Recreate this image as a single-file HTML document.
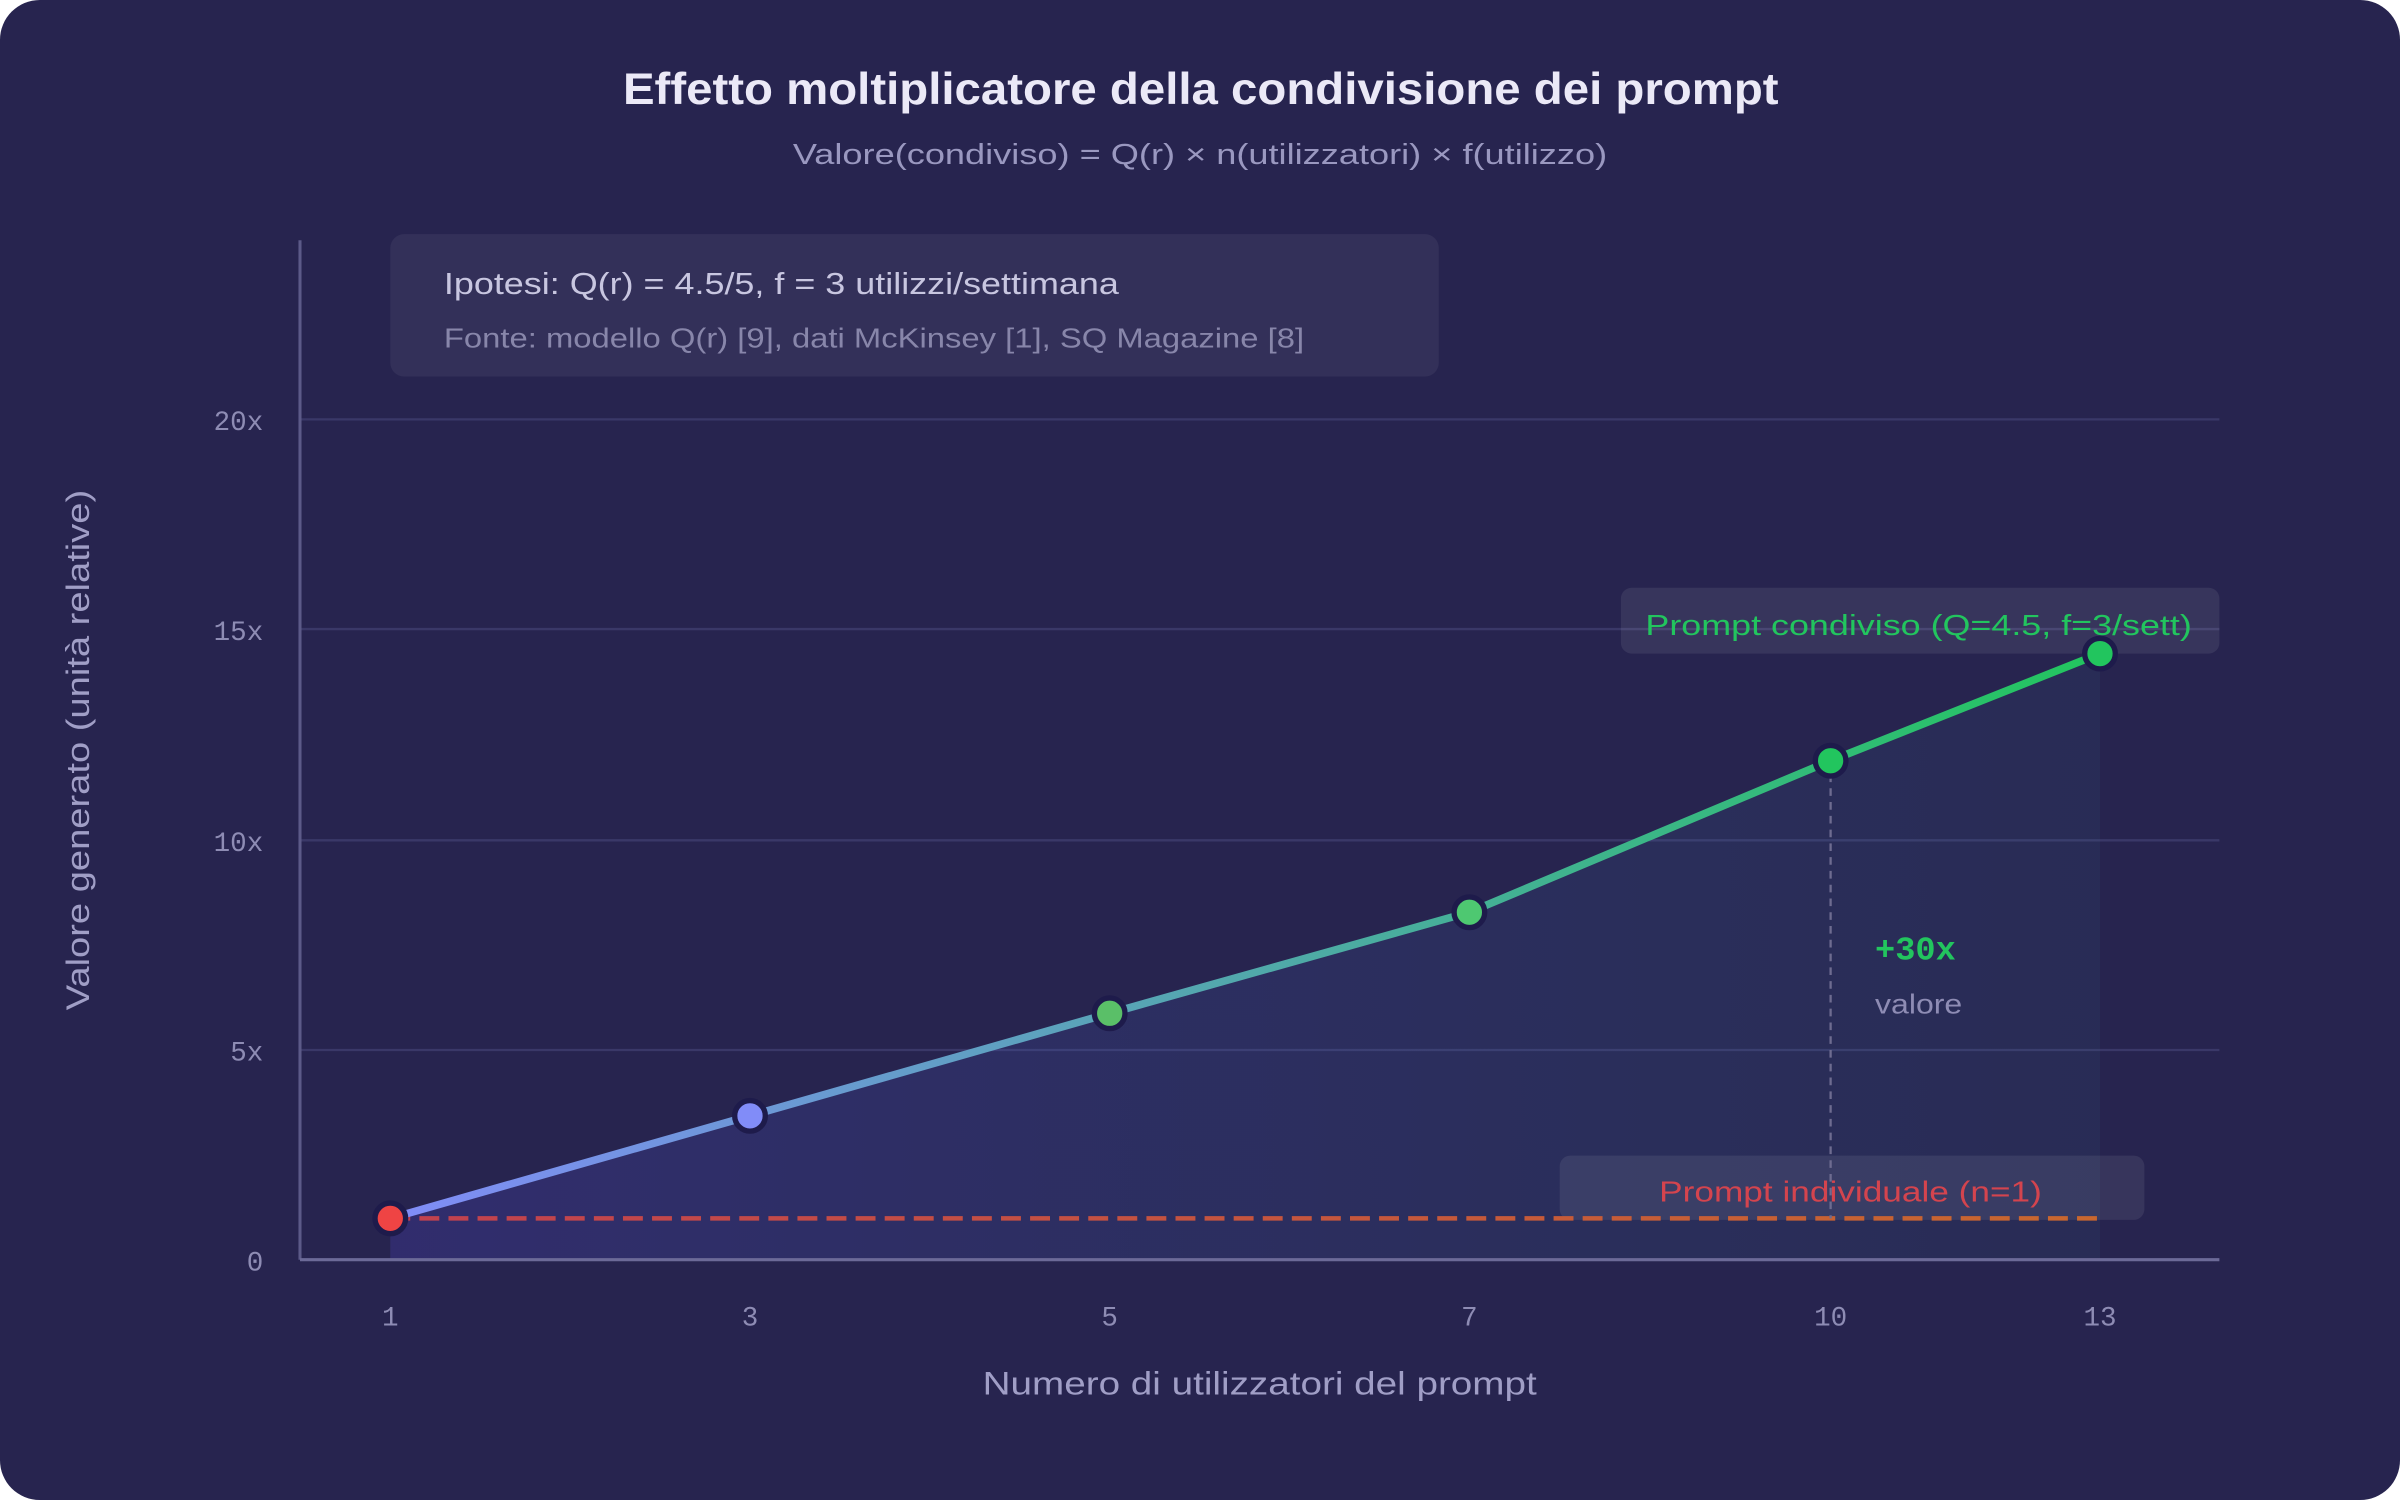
<!DOCTYPE html>
<html><head><meta charset="utf-8"><style>
html,body{margin:0;padding:0;background:#fff;}
svg{display:block;}
</style></head><body>
<svg width="2400" height="1500" viewBox="0 0 1568 980" xmlns="http://www.w3.org/2000/svg">
<defs>
<linearGradient id="lg" x1="255" y1="0" x2="1372" y2="0" gradientUnits="userSpaceOnUse">
<stop offset="0" stop-color="#818cf8"/><stop offset="1" stop-color="#22c55e"/></linearGradient>
<linearGradient id="dg" x1="255" y1="0" x2="1372" y2="0" gradientUnits="userSpaceOnUse">
<stop offset="0" stop-color="#c2414f"/><stop offset="1" stop-color="#c9672e"/></linearGradient>
<linearGradient id="ag" x1="255" y1="0" x2="1372" y2="0" gradientUnits="userSpaceOnUse">
<stop offset="0" stop-color="#4f46c8" stop-opacity="0.25"/><stop offset="1" stop-color="#3b82a0" stop-opacity="0.08"/></linearGradient>
</defs>
<rect x="0" y="0" width="1568" height="980" rx="26" fill="#27244f"/>
<g font-family="Liberation Sans, DejaVu Sans, sans-serif">
<text x="407" y="68" textLength="755" lengthAdjust="spacingAndGlyphs" font-size="29" font-weight="bold" fill="#ebe9f7">Effetto moltiplicatore della condivisione dei prompt</text>
<text x="518" y="107" textLength="532" lengthAdjust="spacingAndGlyphs" font-size="19" fill="#9a98c0">Valore(condiviso) = Q(r) × n(utilizzatori) × f(utilizzo)</text>
<g stroke="#3a3868" stroke-width="1.5">
<line x1="196" y1="274" x2="1450" y2="274"/><line x1="196" y1="411" x2="1450" y2="411"/>
<line x1="196" y1="549" x2="1450" y2="549"/><line x1="196" y1="686" x2="1450" y2="686"/>
</g>
<path d="M255,796 L490,729 L725,662 L960,596 L1196,497 L1372,427 L1372,823 L255,823 Z" fill="url(#ag)"/>
<line x1="196" y1="157" x2="196" y2="823" stroke="#5c5a88" stroke-width="2"/>
<line x1="196" y1="823" x2="1450" y2="823" stroke="#6c6a98" stroke-width="2"/>
<g font-family="Liberation Mono, DejaVu Sans Mono, monospace" font-size="18" fill="#8e8cb4">
<text x="172" y="281" text-anchor="end">20x</text><text x="172" y="418" text-anchor="end">15x</text>
<text x="172" y="556" text-anchor="end">10x</text><text x="172" y="693" text-anchor="end">5x</text>
<text x="172" y="830" text-anchor="end">0</text>
<g text-anchor="middle"><text x="255" y="866">1</text><text x="490" y="866">3</text><text x="725" y="866">5</text><text x="960" y="866">7</text><text x="1196" y="866">10</text><text x="1372" y="866">13</text></g>
</g>
<text x="642" y="911" textLength="362" lengthAdjust="spacingAndGlyphs" font-size="21" fill="#a09ec6">Numero di utilizzatori del prompt</text>
<text transform="translate(58,660) rotate(-90)" textLength="340" lengthAdjust="spacingAndGlyphs" font-size="21" fill="#a09ec6">Valore generato (unità relative)</text>
<rect x="255" y="153" width="685" height="93" rx="9" fill="#ffffff" fill-opacity="0.06"/>
<text x="290" y="192" textLength="441" lengthAdjust="spacingAndGlyphs" font-size="20" fill="#c8c6e0">Ipotesi: Q(r) = 4.5/5, f = 3 utilizzi/settimana</text>
<text x="290" y="227" textLength="562" lengthAdjust="spacingAndGlyphs" font-size="18" fill="#8886aa">Fonte: modello Q(r) [9], dati McKinsey [1], SQ Magazine [8]</text>
<rect x="1019" y="755" width="382" height="42" rx="7" fill="#ffffff" fill-opacity="0.08"/>
<text x="1084" y="785" textLength="250" lengthAdjust="spacingAndGlyphs" font-size="19" fill="#d4444e">Prompt individuale (n=1)</text>
<line x1="255" y1="796" x2="1372" y2="796" stroke="url(#dg)" stroke-width="3" stroke-dasharray="13,6"/>
<line x1="1196" y1="497" x2="1196" y2="796" stroke="#6e6c90" stroke-width="1.5" stroke-dasharray="5,4"/>
<text x="1225" y="627" font-family="Liberation Mono, DejaVu Sans Mono, monospace" font-size="22" font-weight="bold" fill="#22c55e">+30x</text>
<text x="1225" y="662" textLength="57" lengthAdjust="spacingAndGlyphs" font-size="18" fill="#8e8cb4">valore</text>
<rect x="1059" y="384" width="391" height="43" rx="7" fill="#ffffff" fill-opacity="0.08"/>
<text x="1075" y="415" textLength="357" lengthAdjust="spacingAndGlyphs" font-size="19" fill="#22c55e">Prompt condiviso (Q=4.5, f=3/sett)</text>
<polyline points="255,796 490,729 725,662 960,596 1196,497 1372,427" fill="none" stroke="url(#lg)" stroke-width="5" stroke-linejoin="round" stroke-linecap="round"/>
<g stroke="#1e1b4b" stroke-width="3.5">
<circle cx="255" cy="796" r="10" fill="#ef4444"/>
<circle cx="490" cy="729" r="10" fill="#818cf8"/>
<circle cx="725" cy="662" r="10" fill="#5abf68"/>
<circle cx="960" cy="596" r="10" fill="#4ec871"/>
<circle cx="1196" cy="497" r="10" fill="#22c55e"/>
<circle cx="1372" cy="427" r="10" fill="#22c55e"/>
</g>
</g>
</svg>
</body></html>
